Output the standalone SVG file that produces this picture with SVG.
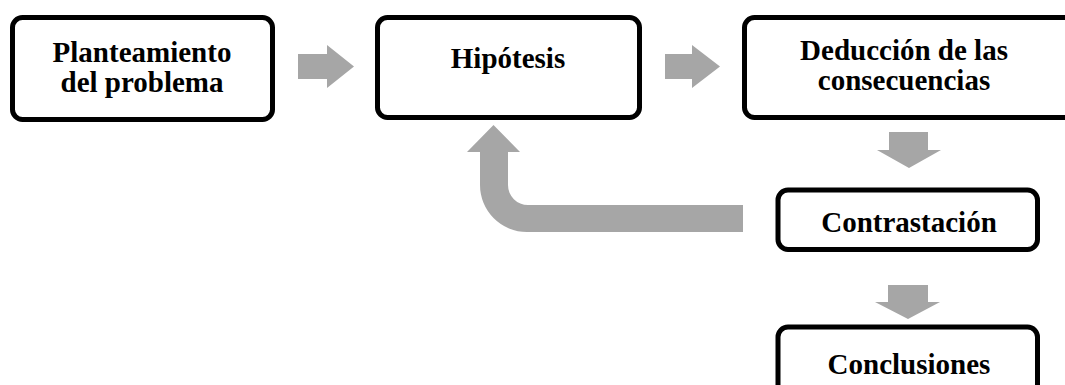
<svg xmlns="http://www.w3.org/2000/svg" width="1065" height="385" viewBox="0 0 1065 385">
<style>
.box{fill:#fff;stroke:#000;stroke-width:5}
.lbl{font-family:"Liberation Serif","Times New Roman",serif;font-weight:bold;font-size:29px;fill:#000;text-anchor:middle}
.arr{fill:#a6a6a6;stroke:none}
</style>
<rect width="1065" height="385" fill="#fff"/>
<g id="connectors">
<polygon class="arr" points="298,54 327,54 327,45 354,66.5 327,88 327,79 298,79"/>
<polygon class="arr" points="665,54 692,54 692,45 720,66.5 692,88 692,79 665,79"/>
<polygon class="arr" points="889,132 928,132 928,150 941,150 909,168 877,150 889,150"/>
<polygon class="arr" points="888,285 928,285 928,302 940,302 908,319 875,302 888,302"/>
<path class="arr" d="M743,205 L528,205 A20,20 0 0 1 508,185 L508,152 L520,152 L493.5,125 L467,152 L480,152 L480,185 A47,47 0 0 0 527,232 L743,232 Z"/>
</g>
<g id="n1">
<rect class="box" x="12.5" y="17.5" width="260" height="102" rx="10"/>
<text class="lbl" x="142" y="62">Planteamiento</text>
<text class="lbl" x="142" y="92">del problema</text>
</g>
<g id="n2">
<rect class="box" x="377.5" y="17.5" width="262" height="100" rx="10"/>
<text class="lbl" x="508" y="68">Hipótesis</text>
</g>
<g id="n3">
<rect class="box" x="744.5" y="17.5" width="340" height="100" rx="10"/>
<text class="lbl" x="904" y="60">Deducción de las</text>
<text class="lbl" x="904" y="90">consecuencias</text>
</g>
<g id="n4">
<rect class="box" x="778" y="190" width="259.5" height="59.5" rx="10"/>
<text class="lbl" x="909" y="232">Contrastación</text>
</g>
<g id="n5">
<rect class="box" x="778" y="327" width="259.5" height="80" rx="10"/>
<text class="lbl" x="909" y="374">Conclusiones</text>
</g>
</svg>
